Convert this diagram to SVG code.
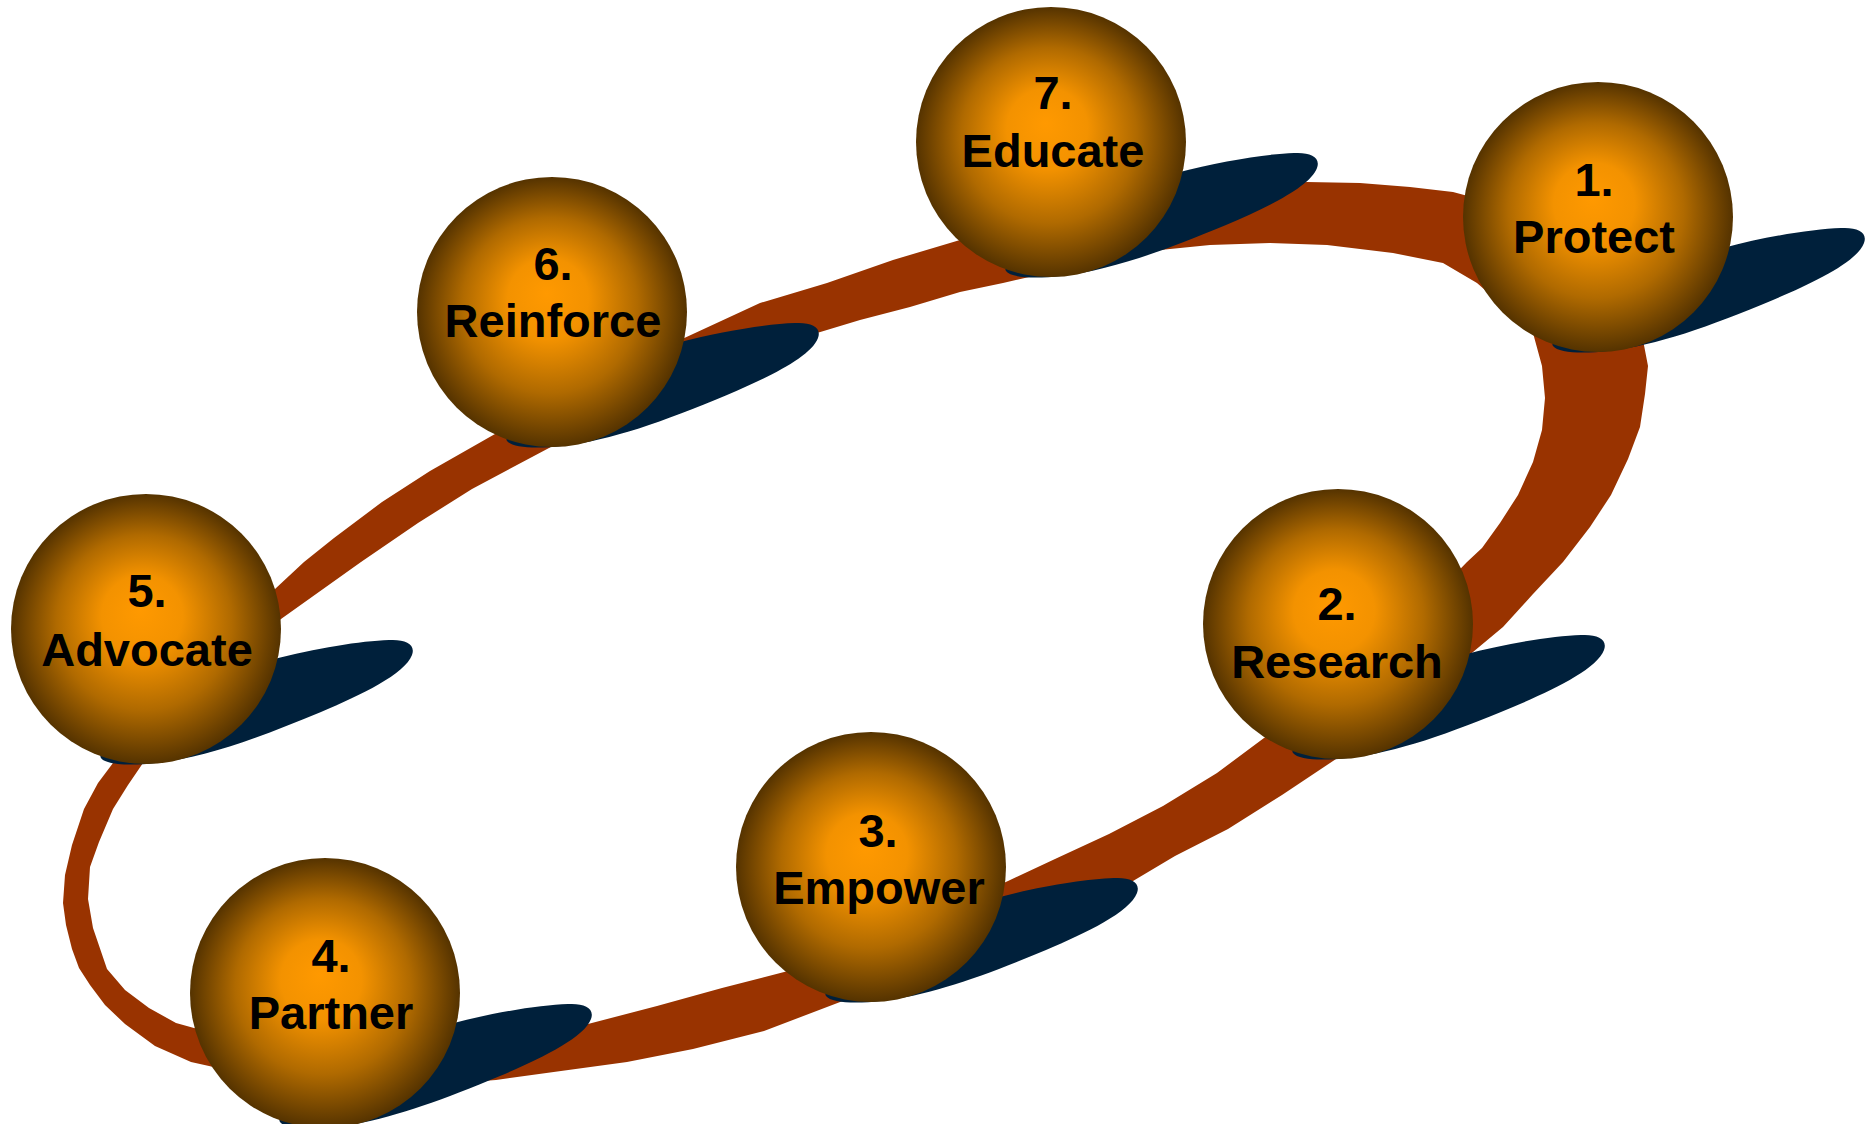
<svg xmlns="http://www.w3.org/2000/svg" xmlns:xlink="http://www.w3.org/1999/xlink" width="1872" height="1124" viewBox="0 0 1872 1124">
  <style>
    .band { fill: #993300; fill-rule: evenodd; stroke: none; }
    .shadow { fill: #00203B; }
    .ball { fill: url(#ball); }
    .lbl { font-family: "Liberation Sans", Arial, sans-serif; font-weight: bold; font-size: 47px; fill: #000000; text-anchor: middle; }
  </style>
  <defs>
    <radialGradient id="ball" cx="0.5" cy="0.5" r="0.5" fx="0.48" fy="0.43">
      <stop offset="0" stop-color="#FF9900"/>
      <stop offset="0.3" stop-color="#F39200"/>
      <stop offset="0.65" stop-color="#B06A00"/>
      <stop offset="1" stop-color="#553300"/>
    </radialGradient>
    <path id="sh" d="M 266 26 C 270 15 259 10 243 11 C 215 12 170 19 125 31 L 20 80 C -25 105 -50 122 -45 129 C -40 136 -15 137 10 134 C 60 128 110 110 175 83 C 215 66 259 45 266 26 Z"/>
  </defs>
  <rect width="1872" height="1124" fill="#FFFFFF"/>

  <g id="connectors">
    <path class="band" d="M 209 1066 L 191 1062 155 1046 125 1024 105 1005 90 985 79 968 72 949 66 925 63 903 65 875 72 845 84 809 98 783 113 763 160 700 220 640 275 589 304 562 334 538 382 502 430 471 495 434 590 383 680 340 760 303 827 283 893 260 960 240 1040 222 1120 204 1200 191 1307 182 1360 183 1410 187 1453 192 1520 210 1585 245 1628 292 1643 340 1648 366 1645 394 1640 427 1628 459 1611 495 1590 527 1563 562 1533 594 1503 627 1467 657 1420 700 1380 730 1336 759 1282 795 1228 829 1175 856 1133 881 1050 925 940 965 848 999 764 1031 693 1049 627 1062 561 1071 496 1080 430 1085 330 1086 260 1078 Z
      M 194 1028 L 176 1023 149 1008 125 990 107 969 93 928 88 899 90 867 99 842 113 809 128 785 143 763 175 715 230 660 281 619 361 562 418 523 472 489 549 448 640 400 740 355 817 333 860 320 910 307 960 292 1003 283 1051 272 1100 260 1160 250 1210 245 1270 243 1327 245 1393 253 1443 263 1477 283 1485 290 1510 310 1533 333 1542 366 1545 398 1542 430 1533 462 1518 495 1500 523 1482 548 1467 562 1430 600 1360 670 1264 738 1217 773 1163 806 1109 834 1055 859 1008 881 900 930 788 971 722 988 657 1006 588 1024 500 1040 400 1045 300 1040 240 1035 Z"/>
  </g>

  <g id="node-1">
    <use xlink:href="#sh" href="#sh" class="shadow" transform="translate(1598,217)"/>
    <circle class="ball" cx="1598" cy="217" r="135"/>
    <text class="lbl" x="1594" y="196">1.</text>
    <text class="lbl" x="1594" y="253">Protect</text>
  </g>
  <g id="node-2">
    <use xlink:href="#sh" href="#sh" class="shadow" transform="translate(1338,624)"/>
    <circle class="ball" cx="1338" cy="624" r="135"/>
    <text class="lbl" x="1337" y="620">2.</text>
    <text class="lbl" x="1337" y="678">Research</text>
  </g>
  <g id="node-3">
    <use xlink:href="#sh" href="#sh" class="shadow" transform="translate(871,867)"/>
    <circle class="ball" cx="871" cy="867" r="135"/>
    <text class="lbl" x="878" y="847">3.</text>
    <text class="lbl" x="879" y="904">Empower</text>
  </g>
  <g id="node-4">
    <use xlink:href="#sh" href="#sh" class="shadow" transform="translate(325,993)"/>
    <circle class="ball" cx="325" cy="993" r="135"/>
    <text class="lbl" x="331" y="972">4.</text>
    <text class="lbl" x="331" y="1029">Partner</text>
  </g>
  <g id="node-5">
    <use xlink:href="#sh" href="#sh" class="shadow" transform="translate(146,629)"/>
    <circle class="ball" cx="146" cy="629" r="135"/>
    <text class="lbl" x="147" y="607">5.</text>
    <text class="lbl" x="147" y="666">Advocate</text>
  </g>
  <g id="node-6">
    <use xlink:href="#sh" href="#sh" class="shadow" transform="translate(552,312)"/>
    <circle class="ball" cx="552" cy="312" r="135"/>
    <text class="lbl" x="553" y="280">6.</text>
    <text class="lbl" x="553" y="337">Reinforce</text>
  </g>
  <g id="node-7">
    <use xlink:href="#sh" href="#sh" class="shadow" transform="translate(1051,142)"/>
    <circle class="ball" cx="1051" cy="142" r="135"/>
    <text class="lbl" x="1053" y="109">7.</text>
    <text class="lbl" x="1053" y="167">Educate</text>
  </g>
</svg>
